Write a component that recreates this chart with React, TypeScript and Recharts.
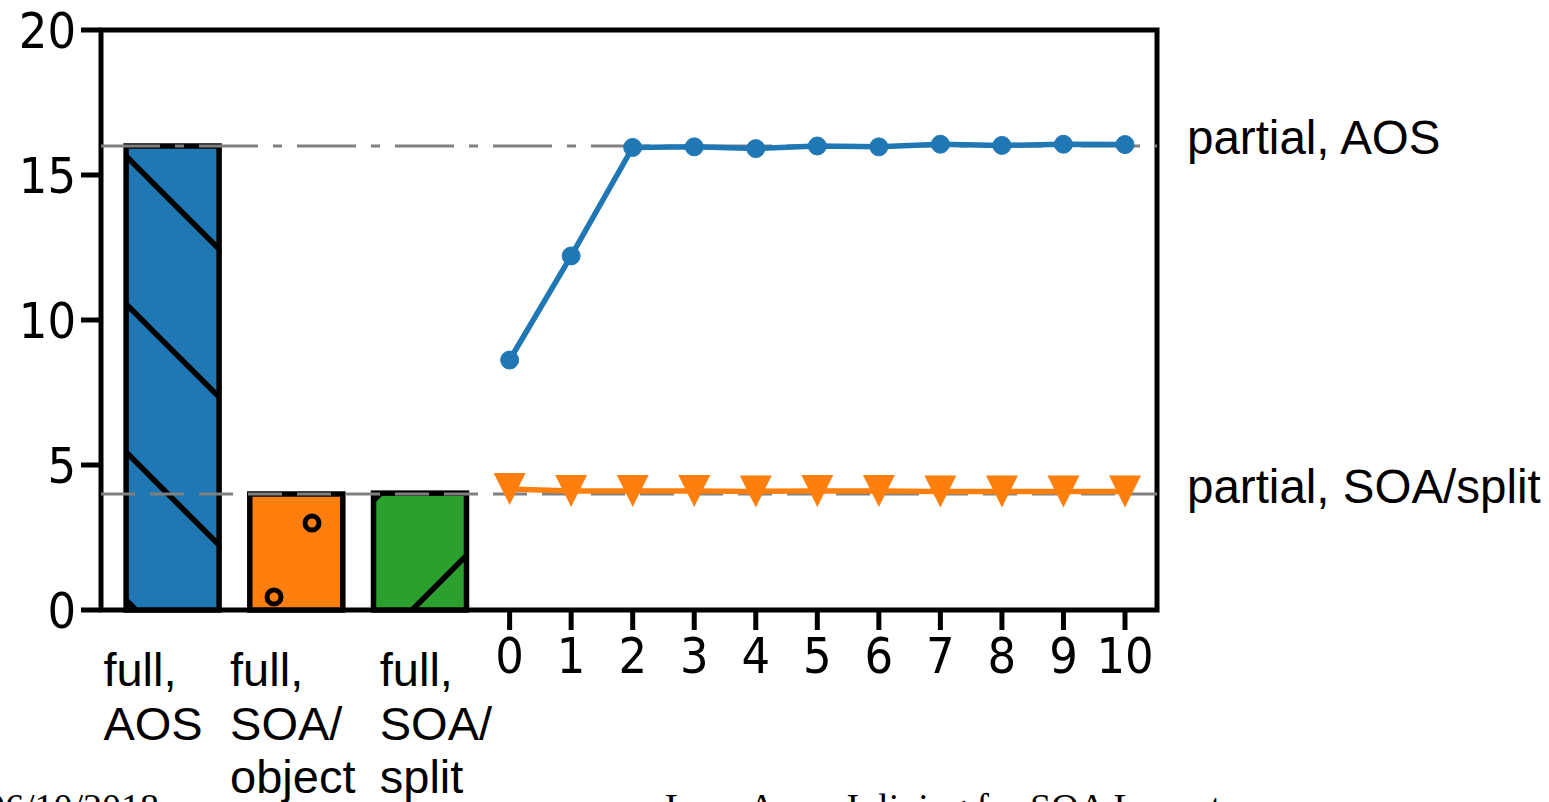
import React from 'react';
import {
  ComposedChart,
  Bar,
  Line,
  XAxis,
  YAxis,
  ReferenceLine,
  ReferenceArea,
} from 'recharts';

// values
const barLabels = [
  ['full,', 'AOS'],
  ['full,', 'SOA/', 'object'],
  ['full,', 'SOA/', 'split'],
];
const barValues = [16.0, 4.0, 4.03];
const steps = [0, 1, 2, 3, 4, 5, 6, 7, 8, 9, 10];
const partialAos = [8.62, 12.21, 15.95, 15.97, 15.91, 16.0, 15.97, 16.06, 16.02, 16.06, 16.05];
const partialSoa = [4.17, 4.1, 4.1, 4.1, 4.09, 4.1, 4.1, 4.09, 4.09, 4.09, 4.09];
const yTicks = [0, 5, 10, 15, 20];
const refAos = 16;
const refSoa = 4;

// layout
const W = 1549;
const H = 802;
const BAR_FIRST = -5.48;
const BAR_STEP = 2.01;
const BAR_W = 93;
const X_DOMAIN: [number, number] = [-6.64, 10.52];
const barX = barValues.map((_, i) => BAR_FIRST + i * BAR_STEP);
const labelDx = [-69, -66, -40];
const barFills = ['url(#hatchAos)', 'url(#hatchObj)', 'url(#hatchSplit)'];

const BLUE = '#1f77b4';
const ORANGE = '#ff7f0e';
const GREEN = '#2ca02c';
const SANS = 'Liberation Sans, Arial, sans-serif';
const DIGITS = 'DejaVu Sans Condensed, DejaVu Sans, sans-serif';

const rows = [
  ...barValues.map((v, i) => ({ x: barX[i], full: v })),
  ...steps.map((s, i) => ({ x: s, aos: partialAos[i], soa: partialSoa[i] })),
];

const XTick = (props: any) => {
  const { x, y, payload } = props;
  const v = payload.value;
  const bi = barX.findIndex((b) => Math.abs(b - v) < 1e-6);
  if (bi >= 0) {
    const lx = x + labelDx[bi];
    return (
      <text x={lx} y={y} fontFamily={SANS} fontSize={47} fill="#000">
        {barLabels[bi].map((l, i) => (
          <tspan key={i} x={lx} y={y + 56 + i * 53.5}>
            {l}
          </tspan>
        ))}
      </text>
    );
  }
  return (
    <g>
      <line x1={x} x2={x} y1={y - 20} y2={y} stroke="#000" strokeWidth={5} />
      <text x={x} y={y + 43} textAnchor="middle" fontFamily={DIGITS} fontSize={50} fill="#000">
        {v}
      </text>
    </g>
  );
};

const HatchBar = (props: any) => {
  const { x, y, width, height, index } = props;
  if (height == null || !isFinite(height)) return <g />;
  const cx = x + width / 2;
  return (
    <rect
      x={cx - BAR_W / 2}
      y={y}
      width={BAR_W}
      height={height}
      fill={barFills[index] || 'none'}
      stroke="#000"
      strokeWidth={5.5}
    />
  );
};

const TriangleDot = (props: any) => {
  const { cx, cy, index } = props;
  if (cx == null || cy == null) return <g key={`t${index}`} />;
  return (
    <polygon
      key={`t${index}`}
      points={`${cx - 16},${cy - 16} ${cx + 16},${cy - 16} ${cx},${cy + 16}`}
      fill={ORANGE}
    />
  );
};

const sideLabel = (text: string, dy: number) => (props: any) => {
  const vb = props.viewBox;
  return (
    <text x={vb.x + vb.width + 30} y={vb.y + dy} fontFamily={SANS} fontSize={47.5} fill="#000">
      {text}
    </text>
  );
};

export default function App() {
  return (
    <div style={{ position: 'absolute', left: 0, top: 0, width: W, height: H, overflow: 'hidden', background: '#fff' }}>
      <svg width={0} height={0} style={{ position: 'absolute' }}>
        <defs>
          <pattern id="hatchAos" patternUnits="userSpaceOnUse" x={0} y={30} width={148} height={148}>
            <rect width={148} height={148} fill={BLUE} />
            <path d="M-20,-20 L168,168 M-20,128 L20,168 M128,-20 L168,20" stroke="#000" strokeWidth={5.5} />
          </pattern>
          <pattern id="hatchObj" patternUnits="userSpaceOnUse" x={255} y={116} width={76} height={148}>
            <rect width={76} height={148} fill={ORANGE} />
            <circle cx={19} cy={37} r={7} fill="none" stroke="#000" strokeWidth={5} />
            <circle cx={57} cy={111} r={7} fill="none" stroke="#000" strokeWidth={5} />
          </pattern>
          <pattern id="hatchSplit" patternUnits="userSpaceOnUse" x={0} y={134} width={148} height={148}>
            <rect width={148} height={148} fill={GREEN} />
            <path d="M-20,168 L168,-20 M-20,20 L20,-20 M128,168 L168,128" stroke="#000" strokeWidth={5.5} />
          </pattern>
        </defs>
      </svg>
      <ComposedChart width={W} height={H} data={rows} margin={{ top: 30, right: 392, bottom: 0, left: 0 }}>
        <XAxis
          type="number"
          dataKey="x"
          domain={X_DOMAIN}
          ticks={[...barX, ...steps]}
          interval={0}
          tick={(p: any) => <XTick {...p} />}
          tickLine={false}
          axisLine={false}
          tickSize={20}
          tickMargin={0}
          height={192}
        />
        <YAxis
          type="number"
          domain={[0, 20]}
          ticks={yTicks}
          interval={0}
          width={101}
          tickSize={20}
          tickMargin={5}
          axisLine={false}
          tickLine={{ stroke: '#000', strokeWidth: 5 }}
          tick={{ fontFamily: DIGITS, fontSize: 50, fill: '#000' }}
        />
        <Bar dataKey="full" barSize={40} shape={(p: any) => <HatchBar {...p} />} isAnimationActive={false} />
        <ReferenceLine
          y={refAos}
          stroke="#808080"
          strokeWidth={3}
          strokeDasharray="59 15 9 15"
          label={sideLabel('partial, AOS', 8)}
        />
        <ReferenceLine
          y={refSoa}
          stroke="#808080"
          strokeWidth={3}
          strokeDasharray="34 15"
          label={sideLabel('partial, SOA/split', 9)}
        />
        <Line
          dataKey="aos"
          stroke={BLUE}
          strokeWidth={5.5}
          dot={{ r: 9, fill: BLUE, stroke: BLUE, strokeWidth: 1 }}
          isAnimationActive={false}
        />
        <Line
          dataKey="soa"
          stroke={ORANGE}
          strokeWidth={5.5}
          dot={(p: any) => <TriangleDot {...p} />}
          isAnimationActive={false}
        />
        <ReferenceArea
          x1={X_DOMAIN[0]}
          x2={X_DOMAIN[1]}
          y1={0}
          y2={20}
          fill="none"
          fillOpacity={0}
          stroke="#000"
          strokeWidth={5}
        />
      </ComposedChart>
      <svg width={W} height={H} style={{ position: 'absolute', left: 0, top: 0, pointerEvents: 'none' }}>
        <text x={-14} y={820} fontFamily="Liberation Serif, Times New Roman, serif" fontSize={38} fill="#000">
          06/10/2018
        </text>
        <text x={665} y={820} fontFamily="Liberation Serif, Times New Roman, serif" fontSize={38} fill="#000">
          Lazy Array Inlining for SOA Layout
        </text>
      </svg>
    </div>
  );
}
